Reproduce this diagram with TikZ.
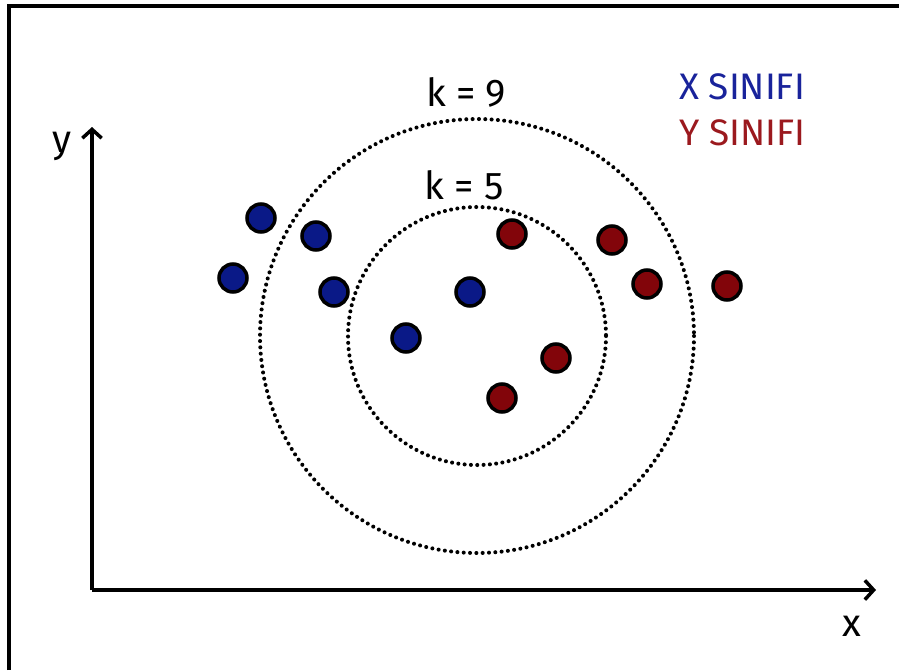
\documentclass[tikz,border=0pt]{standalone}
\usepackage{fontspec}
\setmainfont{Fira Sans}
\usetikzlibrary{arrows.meta}

\definecolor{xblue}{RGB}{10,25,135}
\definecolor{yred}{RGB}{130,5,10}
\definecolor{xtext}{RGB}{25,35,155}
\definecolor{ytext}{RGB}{155,25,30}

\begin{document}
\begin{tikzpicture}[x=0.02cm,y=-0.02cm,
  xpt/.style={circle,draw=black,line width=2pt,fill=xblue,minimum size=0.56cm,inner sep=0pt},
  ypt/.style={xpt,fill=yred},
  ring/.style={line width=2.3pt,dash pattern=on 0pt off 3.6pt,line cap=round},
  axis/.style={line width=2.2pt,-{Straight Barb[length=5pt,width=11pt,line width=2pt]}},
  lbl/.style={font=\fontsize{22}{26}\selectfont},
  leg/.style={font=\fontsize{21}{25}\selectfont,anchor=west}]
\useasboundingbox (0,0) rectangle (899,670);
\fill[white] (0,0) rectangle (899,670);
\draw[line width=1.8pt] (9,670) -- (9,6) -- (899,6);

% axes
\coordinate (o) at (92,590);
\coordinate (ytip) at (92,127);
\coordinate (xtip) at (876,590);
\draw[axis] (o) -- (ytip);
\draw[axis] (o) -- (xtip);
\node[lbl] (ylab) at (62,146) {y};
\node[lbl] (xlab) at (852,626) {x};

% neighbourhoods
\coordinate (c) at (477,336);
\draw[ring] (c) circle[radius=217];
\draw[ring] (c) circle[radius=129];
\node[lbl] (k9) at (466,92) {k = 9};
\node[lbl] (k5) at (464,185) {k = 5};

% legend
\node[leg,text=xtext] (xleg) at (673,87) {X SINIFI};
\node[leg,text=ytext] (yleg) at (673,133) {Y SINIFI};

% class X
\node[xpt] (b1) at (261,218) {};
\node[xpt] (b2) at (316,236) {};
\node[xpt] (b3) at (233,278) {};
\node[xpt] (b4) at (334,292) {};
\node[xpt] (b5) at (470,292) {};
\node[xpt] (b6) at (406,338) {};

% class Y
\node[ypt] (r1) at (512,234) {};
\node[ypt] (r2) at (556,358) {};
\node[ypt] (r3) at (502,398) {};
\node[ypt] (r4) at (612,240) {};
\node[ypt] (r5) at (647,284) {};
\node[ypt] (r6) at (727,286) {};
\end{tikzpicture}
\end{document}
